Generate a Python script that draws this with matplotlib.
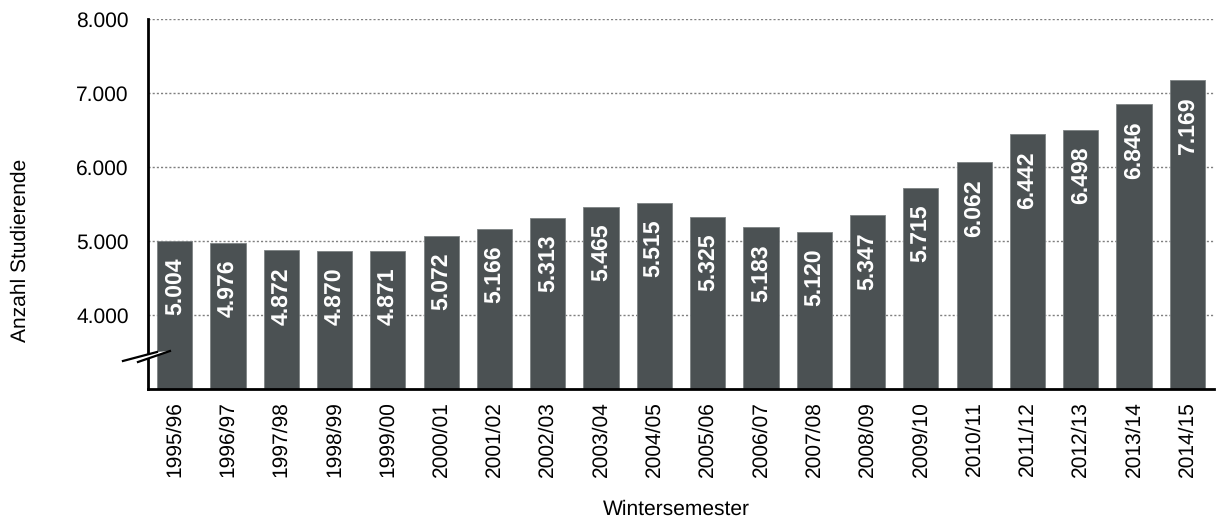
import matplotlib
matplotlib.use("Agg")
import matplotlib.pyplot as plt
from matplotlib.patches import Polygon
from matplotlib.ticker import FuncFormatter

semesters = ["1995/96", "1996/97", "1997/98", "1998/99", "1999/00", "2000/01",
             "2001/02", "2002/03", "2003/04", "2004/05", "2005/06", "2006/07",
             "2007/08", "2008/09", "2009/10", "2010/11", "2011/12", "2012/13",
             "2013/14", "2014/15"]
students = [5004, 4976, 4872, 4870, 4871, 5072, 5166, 5313, 5465, 5515,
            5325, 5183, 5120, 5347, 5715, 6062, 6442, 6498, 6846, 7169]
y_ticks = [4000, 5000, 6000, 7000, 8000]

plt.rcParams['font.family'] = ['Liberation Sans', 'DejaVu Sans']
plt.rcParams['text.hinting'] = 'no_hinting'
plt.rcParams['text.hinting_factor'] = 1

W, H = 1218, 519
fig = plt.figure(figsize=(W / 100, H / 100), dpi=100)
ax = fig.add_axes([148 / W, 1 - 389 / H, (1214 - 148) / W, (389 - 19) / H])

bar_color = '#4b5153'
x = list(range(len(semesters)))
ax.bar(x, students, width=0.66, bottom=0, color=bar_color,
       edgecolor='#7d8284', linewidth=0.6, zorder=2)

ax.set_xlim(-0.5, len(semesters) - 0.5)
ax.set_ylim(3000, 8000)
ax.set_yticks(y_ticks)
ax.yaxis.set_major_formatter(FuncFormatter(lambda v, p: f"{int(v):,}".replace(",", ".")))
ax.set_xticks(x)
ax.set_xticklabels(semesters, rotation=90)
ax.tick_params(axis='y', length=0, pad=14, labelsize=15)
ax.tick_params(axis='x', length=0, pad=9, labelsize=15)

ax.grid(axis='y', color='#7f7f7f', linestyle=(0, (1.5, 1.5)), linewidth=1.0, zorder=0)
ax.set_axisbelow(True)

for s in ['top', 'right']:
    ax.spines[s].set_visible(False)
for s in ['left', 'bottom']:
    ax.spines[s].set_linewidth(2.0)
    ax.spines[s].set_color('black')
    ax.spines[s].set_zorder(3)

for xi, v in zip(x, students):
    ax.annotate(f"{v:,}".replace(",", "."), (xi, v), xytext=(0, -12),
                textcoords='offset points', rotation=90, ha='center', va='top',
                color='white', fontweight='bold', fontsize=16.5, zorder=4)

# axis break mark
tr = ax.transAxes
a0, a1 = (-0.0235, 0.0757), (0.0084, 0.100)
b0, b1 = (-0.0094, 0.0730), (0.0206, 0.1027)
ax.add_patch(Polygon([a0, a1, b1, b0], closed=True, facecolor='white',
                     edgecolor='none', transform=tr, clip_on=False, zorder=5))
ax.plot([a0[0], a1[0]], [a0[1], a1[1]], color='black', lw=1.6,
        transform=tr, clip_on=False, zorder=6)
ax.plot([b0[0], b1[0]], [b0[1], b1[1]], color='black', lw=1.6,
        transform=tr, clip_on=False, zorder=6)

fig.text(20 / W, 1 - 250 / H, "Anzahl Studierende", rotation=90,
         ha='center', va='center', fontsize=15)
fig.text(676 / W, 1 - 509 / H, "Wintersemester", ha='center', va='center',
         fontsize=15)

fig.savefig("out.png", dpi=100)
